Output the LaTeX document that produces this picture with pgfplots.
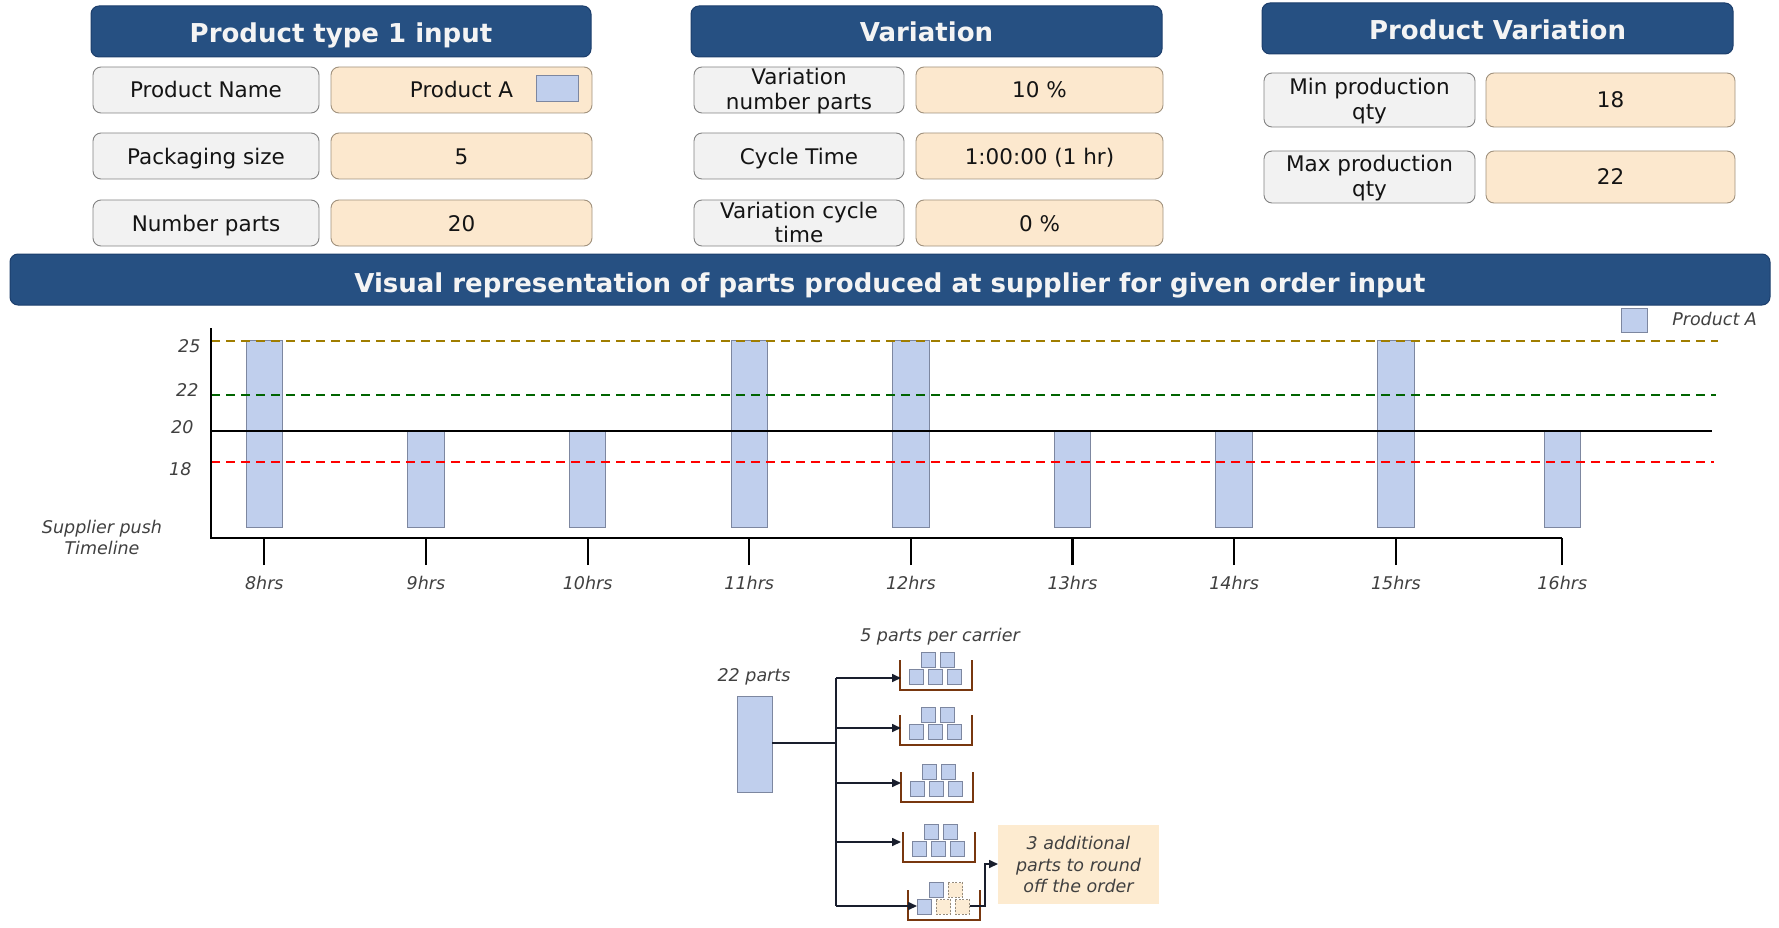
\documentclass[border=0pt]{standalone}
\usepackage{pgfplots}
\pgfplotsset{compat=1.18}
\usepackage{pgfplotstable}
\usepackage{fontspec}
\setmainfont{DejaVu Sans}
\usetikzlibrary{arrows.meta}

\definecolor{hdrblue}{RGB}{38,80,130}
\definecolor{hdrborder}{RGB}{28,62,108}
\definecolor{hdrtext}{RGB}{244,244,244}
\definecolor{lblfill}{RGB}{242,242,242}
\definecolor{lblborder}{RGB}{130,130,130}
\definecolor{valfill}{RGB}{252,232,206}
\definecolor{valborder}{RGB}{160,145,125}
\definecolor{barblue}{RGB}{192,207,237}
\definecolor{baredge}{RGB}{125,135,160}
\definecolor{goldline}{RGB}{160,125,0}
\definecolor{greenline}{RGB}{0,100,0}
\definecolor{redline}{RGB}{255,0,0}
\definecolor{labelgray}{RGB}{64,64,64}
\definecolor{carrierc}{RGB}{120,55,15}
\definecolor{extrafill}{RGB}{252,236,212}
\definecolor{extraedge}{RGB}{150,140,125}
\definecolor{notefill}{RGB}{253,235,208}
\definecolor{flow}{RGB}{25,30,45}
\definecolor{boxtext}{RGB}{20,20,20}

\newcommand\hdrfont{\fontsize{26}{31}\selectfont\bfseries}
\newcommand\boxfont{\fontsize{21.5}{25}\selectfont}
\newcommand\itfont{\fontsize{17.5}{21}\selectfont\itshape}
\newcommand\ylab[3]{\raisebox{#2}[\height][\depth]{#1}\kern#3\relax}

\pgfplotstableread{
hour  parts base
8     25    14.68
9     20    14.68
10    20    14.68
11    25    14.68
12    25    14.68
13    20    14.68
14    20    14.68
15    25    14.68
16.03 20    14.68
}\supplydata

\pgfplotsset{chartaxis/.style={
  at={(211pt,-538pt)}, anchor=south west,
  scale only axis, width=1508pt, height=210pt,
  xmin=7.67, xmax=17, ymin=14.075, ymax=25.7,
  enlargelimits=false, clip=false,
}}

\tikzset{
  hdr/.style={draw=hdrborder, fill=hdrblue, rounded corners=8pt, line width=1pt},
  lbl/.style={draw=lblborder, fill=lblfill, rounded corners=8pt, line width=0.9pt},
  val/.style={draw=valborder, fill=valfill, rounded corners=8pt, line width=0.9pt},
  ht/.style={anchor=base, inner sep=0pt, font=\hdrfont, text=hdrtext},
  bt/.style={anchor=base, inner sep=0pt, font=\boxfont, text=boxtext},
  it/.style={anchor=base, inner sep=0pt, font=\itfont, text=labelgray},
  part/.style={draw=baredge, fill=barblue, line width=0.8pt},
  extra/.style={draw=extraedge, fill=extrafill, line width=0.8pt, dash pattern=on 2pt off 1.5pt},
  flowline/.style={draw=flow, line width=1.6pt},
  tip/.style={-{Triangle[length=9pt,width=8pt]}},
}

% carrier: #1 = left x, #2 = bottom y (pixel coords, y down)
\newcommand\carrier[2]{%
  \draw[carrierc, line width=2.5pt] (#1,#2-30) -- (#1,#2) -- (#1+72,#2) -- (#1+72,#2-30);}
\newcommand\fullparts[2]{%
  \foreach \dx in {9,28,47} {\draw[part] (#1+\dx,#2-20.5) rectangle ++(14.5,14.5);}
  \foreach \dx in {21,40} {\draw[part] (#1+\dx,#2-37.5) rectangle ++(14.5,14.5);}}

\begin{document}
\begin{tikzpicture}
\begin{scope}[x=1pt, y=-1pt]
\useasboundingbox (0,0) rectangle (1779,928);

% ---------- top tables ----------
\draw[hdr] (91,6) rectangle (591,57);
\node[ht] at (341,42.7) {Product type 1 input};
\draw[hdr] (691,6) rectangle (1162,57);
\node[ht] at (926.5,41.7) {Variation};
\draw[hdr] (1262,3) rectangle (1733,54);
\node[ht] at (1497.5,40) {Product Variation};

% column 1
\draw[lbl] (93,67) rectangle (319,113);
\draw[lbl] (93,133) rectangle (319,179);
\draw[lbl] (93,200) rectangle (319,246);
\draw[val] (331,67) rectangle (592,113);
\draw[val] (331,133) rectangle (592,179);
\draw[val] (331,200) rectangle (592,246);
\node[bt] at (206,97.7) {Product Name};
\node[bt] at (206,164.3) {Packaging size};
\node[bt] at (206,231) {Number parts};
\node[bt] at (461.5,97.7) {Product A};
\draw[draw=baredge, fill=barblue, line width=1pt] (536,76) rectangle (578,102);
\node[bt] at (461.5,164.3) {5};
\node[bt] at (461.5,231) {20};

% column 2
\draw[lbl] (694,67) rectangle (904,113);
\draw[lbl] (694,133) rectangle (904,179);
\draw[lbl] (694,200) rectangle (904,246);
\draw[val] (916,67) rectangle (1163,113);
\draw[val] (916,133) rectangle (1163,179);
\draw[val] (916,200) rectangle (1163,246);
\node[bt] at (799,85) {Variation};
\node[bt] at (799,109.3) {number parts};
\node[bt] at (799,164.3) {Cycle Time};
\node[bt] at (799,218.3) {Variation cycle};
\node[bt] at (799,242.7) {time};
\node[bt] at (1039.5,97.7) {10 \%};
\node[bt] at (1039.5,164.3) {1:00:00 (1 hr)};
\node[bt] at (1039.5,231) {0 \%};

% column 3
\draw[lbl] (1264,73) rectangle (1475,127);
\draw[lbl] (1264,151) rectangle (1475,203);
\draw[val] (1486,73) rectangle (1735,127);
\draw[val] (1486,151) rectangle (1735,203);
\node[bt] at (1369.5,95) {Min production};
\node[bt] at (1369.5,119.5) {qty};
\node[bt] at (1369.5,171.7) {Max production};
\node[bt] at (1369.5,196.2) {qty};
\node[bt] at (1610.5,107.5) {18};
\node[bt] at (1610.5,184.8) {22};

% banner
\draw[hdr] (10,254) rectangle (1770,305);
\node[ht] at (890,292) {Visual representation of parts produced at supplier for given order input};

% axis side label
\node[it] at (102,533) {Supplier push};
\node[it] at (102,554) {Timeline};

% ---------- bottom diagram ----------
\node[it] at (754,681) {22 parts};
\node[it] at (940,641) {5 parts per carrier};
\draw[draw=baredge, fill=barblue, line width=1pt] (737,696) rectangle (772,792);

\carrier{900}{690}
\carrier{900}{745}
\carrier{901}{802}
\carrier{903}{862}
\carrier{908}{920}
\fullparts{900}{690}
\fullparts{900}{745}
\fullparts{901}{802}
\fullparts{903}{862}
% last carrier: 2 parts + 3 additional
\draw[part]  (917,899.5) rectangle ++(14.5,14.5);
\draw[extra] (936,899.5) rectangle ++(14.5,14.5);
\draw[extra] (955,899.5) rectangle ++(14.5,14.5);
\draw[part]  (929,882.5) rectangle ++(14.5,14.5);
\draw[extra] (948,882.5) rectangle ++(14.5,14.5);

\draw[flowline] (772,743) -- (836,743);
\draw[flowline] (836,678) -- (836,906);
\foreach \yy in {678,728,783,842} {\draw[flowline, tip] (836,\yy) -- (901,\yy);}
\draw[flowline, tip] (836,906) -- (917,906);
\draw[flowline, tip] (969.5,906) -- (985,906) -- (985,864) -- (998,864);

\fill[notefill] (998,825) rectangle (1159,904);
\node[it] at (1078.5,849.5) {3 additional};
\node[it] at (1078.5,871) {parts to round};
\node[it] at (1078.5,892.5) {off the order};
\end{scope}

% ---------- chart: bars ----------
\begin{axis}[chartaxis, hide axis, ybar stacked, bar width=36.5pt]
\addplot[draw=none, fill=none] table[x=hour, y=base] {\supplydata};
\addplot[fill=barblue, draw=baredge, line width=1pt]
  table[x=hour, y expr=\thisrow{parts}-\thisrow{base}] {\supplydata};
\end{axis}

% ---------- chart: levels, axes, ticks, legend ----------
\begin{axis}[chartaxis,
  axis x line*=bottom, axis y line*=left,
  axis line style={draw=none},
  xtick={8,9,10,11,12,13,14,15,16.03},
  xticklabels={8hrs,9hrs,10hrs,11hrs,12hrs,13hrs,14hrs,15hrs,16hrs},
  ytick={18,20,22,25},
  yticklabels={{\ylab{18}{-2pt}{9pt}},{\ylab{20}{4pt}{7pt}},{\ylab{22}{5pt}{2pt}},{\ylab{25}{-5pt}{0pt}}},
  tick align=outside, major tick length=27pt,
  xtick style={black, line width=2.2pt},
  ytick style={draw=none},
  tick label style={font=\itfont, text=labelgray},
  yticklabel style={xshift=20pt},
  xticklabel style={yshift=-7.5pt},
  /pgf/number format/assume math mode=true,
  legend style={draw=none, fill=none, at={(0.935,1.0381)}, anchor=west,
    inner sep=0pt, column sep=24pt, font=\itfont, text=labelgray,
    nodes={inner sep=0pt}},
  legend cell align=left,
  legend image code/.code={\draw[#1] (0pt,-12pt) rectangle (26pt,12pt);},
]
\addplot[goldline, line width=2.2pt, dash pattern=on 9pt off 6pt, forget plot]
  coordinates {(7.67,25) (16.995,25)};
\addplot[greenline, line width=2.2pt, dash pattern=on 9pt off 6pt, forget plot]
  coordinates {(7.67,22) (16.983,22)};
\addplot[black, line width=2.6pt, forget plot]
  coordinates {(7.67,20) (16.958,20)};
\addplot[redline, line width=2pt, dash pattern=on 9pt off 6pt, forget plot]
  coordinates {(7.67,18.3) (16.97,18.3)};
\addplot[black, line width=2.8pt, forget plot]
  coordinates {(7.67,25.7) (7.67,14.075) (16.03,14.075)};
\addlegendimage{fill=barblue, draw=baredge, line width=1pt}
\addlegendentry{Product A}
\end{axis}
\end{tikzpicture}
\end{document}
